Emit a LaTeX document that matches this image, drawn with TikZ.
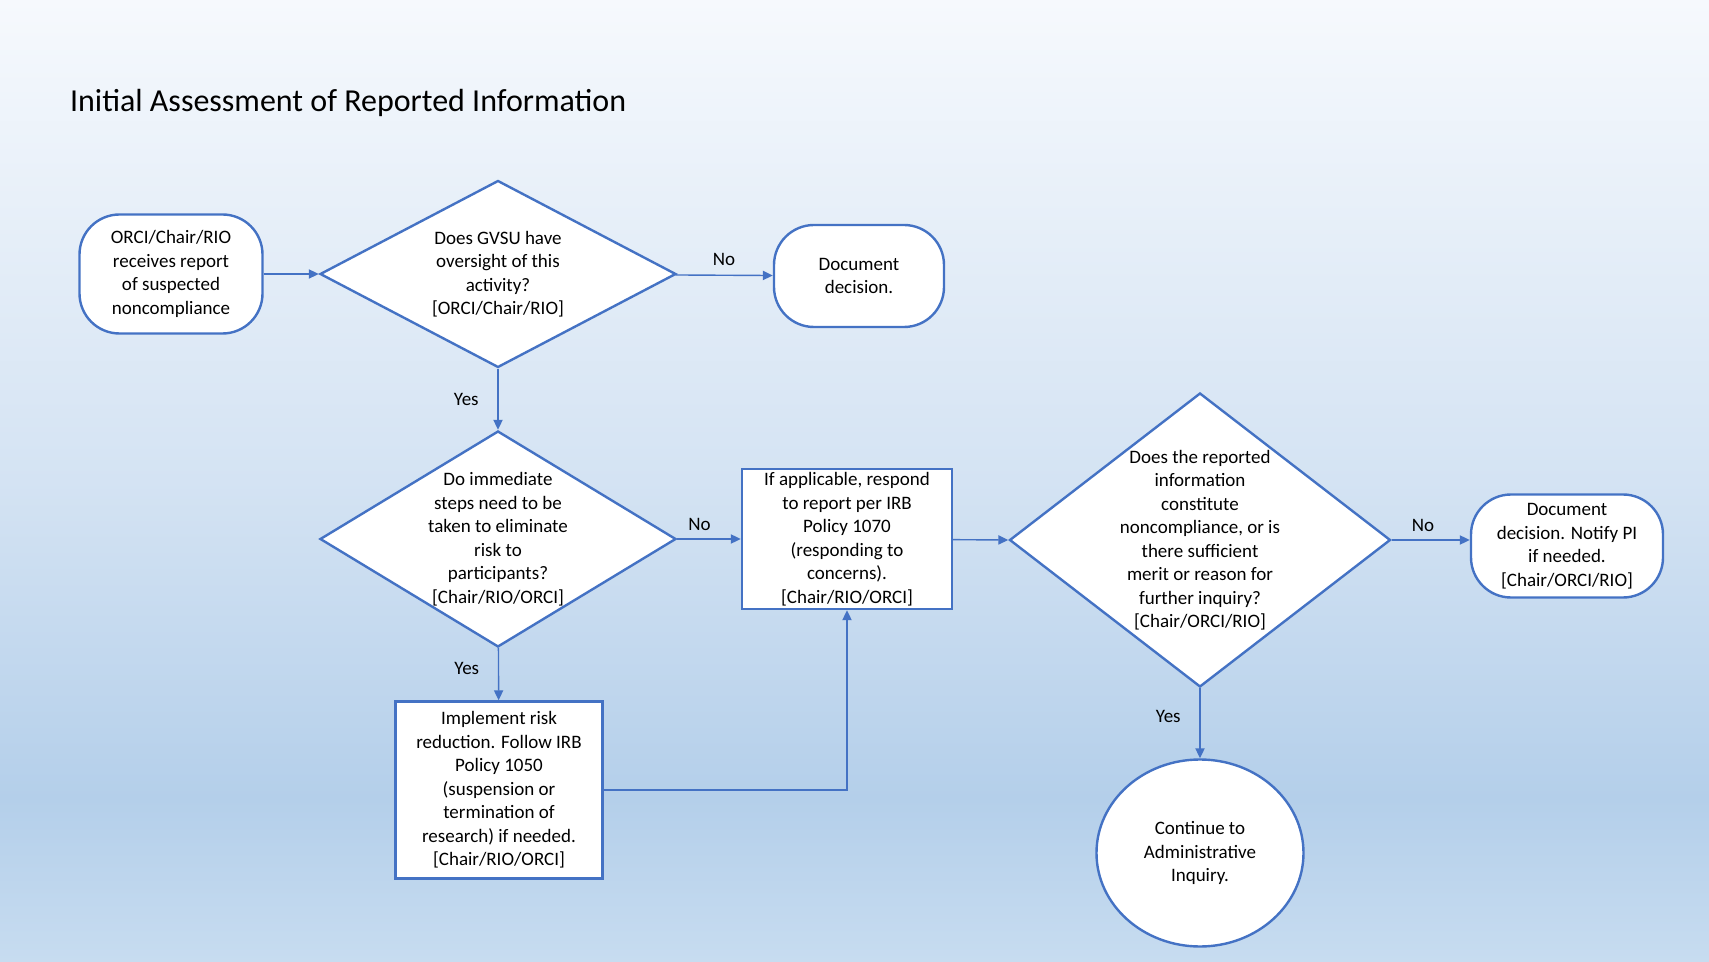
\documentclass[tikz,border=0pt]{standalone}
\usepackage{fontspec}
\setmainfont{Carlito}
\usepackage{tikz}
\usetikzlibrary{shapes,arrows,arrows.meta}

\definecolor{msblue}{HTML}{4472C4}
\definecolor{bgtop}{HTML}{F6F9FD}
\definecolor{bgmid}{HTML}{D4E3F3}
\definecolor{bgdeep}{HTML}{B4CFEA}
\definecolor{bgbottom}{HTML}{C7DCF0}
\pgfdeclareverticalshading{slidebg}{100bp}{color(0bp)=(bgbottom); color(25bp)=(bgbottom); color(33.5bp)=(bgdeep); color(50bp)=(bgmid); color(75bp)=(bgtop); color(100bp)=(bgtop)}

\begin{document}
\begin{tikzpicture}[x=0.5pt,y=-0.5pt,>={Triangle[length=5pt,width=4.6pt]}]
        % flowchart for the first look at a report, pixel grid of the slide
        \tikzstyle{every node} = [font=\fontsize{9.5}{11.75}\selectfont];
        \tikzstyle{term} = [draw=msblue,line width=1.2pt,fill=white,rectangle,rounded corners=20pt,align=center,inner sep=0pt];
        \tikzstyle{block} = [draw=msblue,line width=1.2pt,fill=white,rectangle,align=center,inner sep=0pt];
        \tikzstyle{decision} = [draw=msblue,line width=1.2pt,fill=white,diamond,align=center,inner sep=-6pt];
        \tikzstyle{link} = [draw=msblue,line width=0.7pt,->];

        \fill[shading=slidebg] (0,0) rectangle (1709,962);

        \node[anchor=west,font=\fontsize{16}{19}\selectfont] (title) at (63,103) {Initial Assessment of Reported Information};

        \node[term,minimum width=91.5pt,minimum height=59.5pt] (report) at (171,274) {ORCI/Chair/RIO\\receives report\\of suspected\\noncompliance};
        \node[decision,aspect=1.9,minimum width=178pt,minimum height=93.5pt] (oversight) at (498,274) {Does GVSU have\\oversight of this\\activity?\\{[ORCI/Chair/RIO]}};
        \node[term,minimum width=85pt,minimum height=51pt] (docone) at (859,276) {Document\\decision.};
        \node[decision,aspect=1.65,minimum width=178pt,minimum height=108pt] (steps) at (498,539) {Do immediate\\steps need to be\\taken to eliminate\\risk to\\participants?\\{[Chair/RIO/ORCI]}};
        \node[block,minimum width=105pt,minimum height=70pt] (respond) at (847,539) {If applicable, respond\\to report per IRB\\Policy 1070\\(responding to\\concerns).\\{[Chair/RIO/ORCI]}};
        \node[block,minimum width=103.5pt,minimum height=88.5pt] (reduce) at (499,790) {Implement risk\\reduction. Follow IRB\\Policy 1050\\(suspension or\\termination of\\research) if needed.\\{[Chair/RIO/ORCI]}};
        \node[decision,aspect=1.3,minimum width=190.5pt,minimum height=147pt] (merit) at (1200,540) {Does the reported\\information\\constitute\\noncompliance, or is\\there sufficient\\merit or reason for\\further inquiry?\\{[Chair/ORCI/RIO]}};
        \node[term,minimum width=96pt,minimum height=51.5pt] (doctwo) at (1567,546) {Document\\decision. Notify PI\\if needed.\\{[Chair/ORCI/RIO]}};
        \node[draw=msblue,line width=1.2pt,fill=white,ellipse,align=center,inner sep=0pt,minimum width=103.5pt,minimum height=93.5pt] (inquiry) at (1200,853) {Continue to\\Administrative\\Inquiry.};

        \draw[link] (report) -- (oversight);
        \draw[link] (oversight) -- node[above=1pt] {No} (docone);
        \draw[link] (oversight) -- node[left=6pt] {Yes} (steps);
        \draw[link] (steps) -- node[pos=0.35,above=0.5pt] {No} (respond);
        \draw[link] (steps) -- node[pos=0.4,left=6pt] {Yes} (reduce);
        \draw[link] (reduce.east) -| (respond.south);
        \draw[link] (respond) -- (merit.west);
        \draw[link] (merit) -- node[pos=0.4,above=0.5pt] {No} (doctwo.west |- merit.east);
        \draw[link] (merit) -- node[pos=0.4,left=6pt] {Yes} (inquiry);

    \end{tikzpicture}
\end{document}
